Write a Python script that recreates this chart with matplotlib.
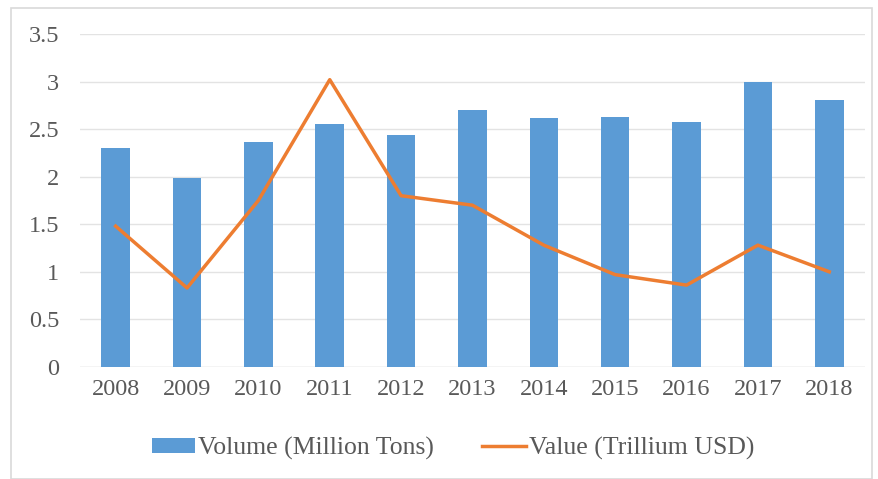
import matplotlib.pyplot as plt
from matplotlib.patches import Rectangle
import numpy as np

# dados
anos = ['2008', '2009', '2010', '2011', '2012', '2013', '2014', '2015', '2016', '2017', '2018']
volume = [2.30, 1.99, 2.36, 2.55, 2.44, 2.70, 2.62, 2.63, 2.58, 3.00, 2.81]
valor = [1.48, 0.83, 1.75, 3.02, 1.80, 1.70, 1.28, 0.97, 0.86, 1.28, 1.00]
yticks = [0, 0.5, 1, 1.5, 2, 2.5, 3, 3.5]
ytick_labels = ['0', '0.5', '1', '1.5', '2', '2.5', '3', '3.5']

plt.rcParams['font.family'] = ['Liberation Serif', 'DejaVu Serif']
cinza = '#595959'

fig = plt.figure(figsize=(8.79, 4.79), dpi=100)
ax = fig.add_axes([0.091, 0.234, 0.893, 0.695])

x = np.arange(len(anos))
barras = ax.bar(x, volume, width=0.4, color='#5b9bd5', zorder=2)
linha, = ax.plot(x, valor, color='#ed7d31', lw=2.5, zorder=3)

ax.set_xlim(-0.5, len(anos) - 0.5)
ax.set_ylim(0, 3.5)
ax.set_yticks(yticks)
ax.set_yticklabels(ytick_labels)
ax.set_xticks(x)
ax.set_xticklabels(anos)
ax.tick_params(length=0, labelsize=17.5, labelcolor=cinza)
ax.tick_params(axis='x', pad=9)
ax.tick_params(axis='y', pad=15)
ax.grid(axis='y', color='#e3e3e3', lw=1, zorder=0)
ax.axhline(0, color='#e3e3e3', lw=1, zorder=1)
for s in ax.spines.values():
    s.set_visible(False)

ax.legend([barras, linha], ['Volume (Million Tons)', 'Value (Trillium USD)'],
          loc='upper center', bbox_to_anchor=(0.475, -0.14), ncol=2, frameon=False,
          fontsize=18.5, labelcolor=cinza, handlelength=1.7, handleheight=0.5,
          handletextpad=0.1, columnspacing=1.9)

# moldura clara em volta do gráfico
fig.patches.append(Rectangle((0.012, 0.0), 0.98, 0.984, transform=fig.transFigure,
                             fill=False, edgecolor='#d9d9d9', lw=1.2))

fig.savefig('out.png', dpi=100)
